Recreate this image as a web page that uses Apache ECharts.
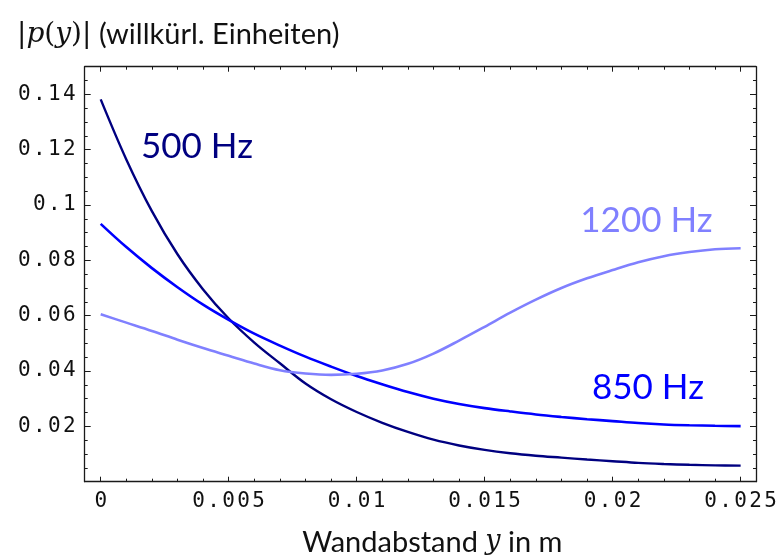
<!DOCTYPE html>
<html>
<head>
<meta charset="utf-8">
<script src="https://cdn.jsdelivr.net/npm/echarts@6/dist/echarts.min.js"></script>
<style>
  html, body { margin: 0; padding: 0; background: #fff; }
  #chart { width: 778px; height: 560px; }
</style>
</head>
<body>
<div id="chart"></div>
<script>
// Wall distance y in metres
const wallDistance = [0, 0.001, 0.002, 0.003, 0.004, 0.005, 0.006, 0.007, 0.008, 0.009,
  0.010, 0.011, 0.012, 0.013, 0.014, 0.015, 0.016, 0.017, 0.018, 0.019,
  0.020, 0.021, 0.022, 0.023, 0.024, 0.025];

// |p(y)| for each frequency (arbitrary units)
const p500 = [0.1382, 0.1165, 0.0978, 0.0822, 0.0695, 0.0590, 0.0503, 0.0428, 0.0355, 0.0298,
  0.0252, 0.0213, 0.0180, 0.0152, 0.0131, 0.0115, 0.0103, 0.0094, 0.0087, 0.0080,
  0.0074, 0.0068, 0.0064, 0.0061, 0.0059, 0.0058];
const p850 = [0.0932, 0.0848, 0.0772, 0.0703, 0.0640, 0.0585, 0.0535, 0.0492, 0.0452, 0.0416,
  0.0382, 0.0352, 0.0324, 0.0300, 0.0281, 0.0266, 0.0254, 0.0243, 0.0234, 0.0226,
  0.0219, 0.0212, 0.0207, 0.0204, 0.0202, 0.0201];
const p1200 = [0.0605, 0.0575, 0.0545, 0.0513, 0.0483, 0.0455, 0.0427, 0.0403, 0.0391, 0.0386,
  0.0390, 0.0402, 0.0426, 0.0463, 0.0510, 0.0560, 0.0611, 0.0658, 0.0700, 0.0735,
  0.0765, 0.0793, 0.0815, 0.0830, 0.0840, 0.0844];

const seriesNames = ['500 Hz', '850 Hz', '1200 Hz'];

// Tick labels
const xTickLabels = ['0', '0.005', '0.01', '0.015', '0.02', '0.025'];
const xMinorTicks = [0.001, 0.002, 0.003, 0.004, 0.006, 0.007, 0.008, 0.009,
  0.011, 0.012, 0.013, 0.014, 0.016, 0.017, 0.018, 0.019,
  0.021, 0.022, 0.023, 0.024];
const yTickLabels = ['0.02', '0.04', '0.06', '0.08', '0.1', '0.12', '0.14'];
const yMajorTicks = [0, 0.02, 0.04, 0.06, 0.08, 0.1, 0.12, 0.14];
const yMinorTicks = [0.005, 0.01, 0.015, 0.025, 0.03, 0.035, 0.045, 0.05, 0.055,
  0.065, 0.07, 0.075, 0.085, 0.09, 0.095, 0.105, 0.11, 0.115,
  0.125, 0.13, 0.135, 0.145];

const xMajorTicks = xTickLabels.map(Number);
const yLabelValues = yTickLabels.map(Number);

const X_MIN = -0.000625, X_MAX = 0.0256;
const Y_MIN = 0, Y_MAX = 0.15;

const FRAME = '#1a1a1a';
const MONO = 'DejaVu Sans Mono';
const SANS = 'Lato';
const SERIF = 'DejaVu Serif';

// fixed-pitch label: every character in its own 15px cell
function mono(str) {
  return str.split('').map(c => '{d|' + c + '}').join('');
}
const monoRich = { d: { width: 15, align: 'center', fontFamily: MONO, fontSize: 21, color: '#111' } };

function tickFormatter(labels, values) {
  return function (v) {
    for (let i = 0; i < values.length; i++) {
      if (Math.abs(values[i] - v) < 1e-9) return mono(labels[i]);
    }
    return '';
  };
}

function xAxisDef(position, ticks, len, withLine, withLabels) {
  return {
    type: 'value', position: position, min: X_MIN, max: X_MAX,
    axisLine: { show: withLine, onZero: false, lineStyle: { color: FRAME, width: 1.3 } },
    axisTick: { show: true, inside: true, length: len, customValues: ticks,
      lineStyle: { color: FRAME, width: 1 } },
    axisLabel: withLabels ? {
      show: true, customValues: xMajorTicks, margin: 9,
      formatter: tickFormatter(xTickLabels, xMajorTicks), rich: monoRich
    } : { show: false },
    splitLine: { show: false }
  };
}
function yAxisDef(position, ticks, len, withLine, withLabels) {
  return {
    type: 'value', position: position, min: Y_MIN, max: Y_MAX,
    axisLine: { show: withLine, onZero: false, lineStyle: { color: FRAME, width: 1.3 } },
    axisTick: { show: true, inside: true, length: len, customValues: ticks,
      lineStyle: { color: FRAME, width: 1 } },
    axisLabel: withLabels ? {
      show: true, customValues: yLabelValues, margin: 8,
      formatter: tickFormatter(yTickLabels, yLabelValues), rich: monoRich
    } : { show: false },
    splitLine: { show: false }
  };
}

const xAxisMain = xAxisDef('bottom', xMajorTicks, 5, true, true);
xAxisMain.name = '{s|Wandabstand }{i|y}{s| in m}';
xAxisMain.nameLocation = 'middle';
xAxisMain.nameGap = 46;
xAxisMain.nameTextStyle = {
  fontFamily: SANS, fontSize: 29, color: '#111', fontWeight: 'normal',
  padding: [0, 0, 0, 24],
  rich: {
    s: { fontFamily: SANS, fontSize: 29, color: '#111', fontWeight: 'normal' },
    i: { fontFamily: SERIF, fontStyle: 'italic', fontSize: 27, color: '#111', fontWeight: 'normal' }
  }
};

function pairs(ys) {
  return wallDistance.map((x, i) => [x, ys[i]]);
}

function curve(name, ys, color, width, labelCoord) {
  return {
    name: name, type: 'line', data: pairs(ys), xAxisIndex: 0, yAxisIndex: 0,
    smooth: 0.35, showSymbol: false, symbol: 'none',
    lineStyle: { color: color, width: width },
    markPoint: {
      symbol: 'circle', symbolSize: 1, itemStyle: { color: 'rgba(0,0,0,0)' },
      silent: true,
      data: [{ coord: labelCoord, value: name }],
      label: { show: true, position: 'inside', formatter: name,
        fontFamily: SANS, fontSize: 35, color: color }
    },
    z: 3
  };
}

const chart = echarts.init(document.getElementById('chart'), null, { renderer: 'canvas' });
chart.setOption({
  animation: false,
  backgroundColor: '#ffffff',
  title: {
    left: 12, top: 15,
    text: '{v||}{i|p}{v|(}{i|y}{v|)|}{s| (willkürl. Einheiten)}',
    textStyle: {
      fontWeight: 'normal',
      rich: {
        v: { fontFamily: SERIF, fontSize: 28, color: '#111', fontWeight: 'normal' },
        i: { fontFamily: SERIF, fontStyle: 'italic', fontSize: 28, color: '#111', fontWeight: 'normal' },
        s: { fontFamily: SANS, fontSize: 29, color: '#111', fontWeight: 'normal' }
      }
    }
  },
  grid: { left: 84.7, right: 22, top: 66.7, bottom: 78.3, outerBoundsMode: 'none', containLabel: false },
  xAxis: [
    xAxisMain,
    xAxisDef('bottom', xMinorTicks, 3, false, false),
    xAxisDef('top', xMajorTicks, 5, true, false),
    xAxisDef('top', xMinorTicks, 3, false, false)
  ],
  yAxis: [
    yAxisDef('left', yMajorTicks, 6, true, true),
    yAxisDef('left', yMinorTicks, 3, false, false),
    yAxisDef('right', yMajorTicks, 6, true, false),
    yAxisDef('right', yMinorTicks, 3, false, false)
  ],
  series: [
    curve(seriesNames[0], p500, '#000080', 2.4, [0.00376, 0.1209]),
    curve(seriesNames[1], p850, '#0000ff', 2.6, [0.02138, 0.0339]),
    curve(seriesNames[2], p1200, '#8080ff', 2.6, [0.02132, 0.0942])
  ]
});
</script>
</body>
</html>
